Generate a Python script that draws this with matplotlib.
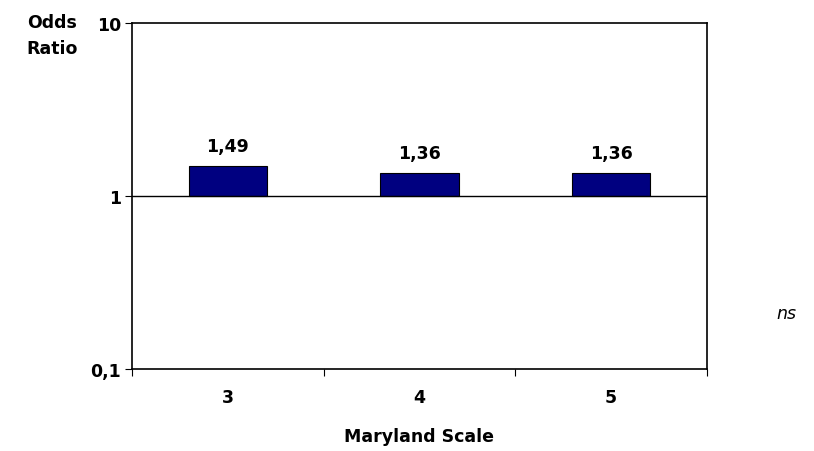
import matplotlib.pyplot as plt
from matplotlib.ticker import FixedLocator, NullLocator

# Odds ratios by Maryland Scale score
categories = ['3', '4', '5']
odds_ratios = [1.49, 1.36, 1.36]
value_labels = ['1,49', '1,36', '1,36']
ytick_values = [0.1, 1, 10]
ytick_labels = ['0,1', '1', '10']

plt.rcParams['font.family'] = 'DejaVu Sans'
plt.rcParams['font.weight'] = 'bold'

fs = 12.5

fig = plt.figure(figsize=(8.14, 4.52), dpi=100)
ax = fig.add_axes([132 / 814, 1 - 370 / 452, 575 / 814, 346 / 452])

x = range(len(categories))
ax.bar(x, [v - 1 for v in odds_ratios], bottom=1, width=0.41,
       color='#000080', edgecolor='black', linewidth=0.8, zorder=3)
for xi, v, lab in zip(x, odds_ratios, value_labels):
    ax.annotate(lab, (xi, v), xytext=(0, 8), textcoords='offset points',
                ha='center', va='bottom', fontsize=fs, fontweight='bold')

ax.axhline(1, color='black', linewidth=1, zorder=4)

ax.set_yscale('log')
ax.set_ylim(0.1, 10)
ax.set_xlim(-0.5, 2.5)
ax.yaxis.set_major_locator(FixedLocator(ytick_values))
ax.yaxis.set_minor_locator(NullLocator())
ax.set_yticks(ytick_values)
ax.set_yticklabels(ytick_labels)

# category labels sit between the boundary ticks
ax.set_xticks([-0.5, 0.5, 1.5, 2.5])
ax.set_xticklabels([])
ax.set_xticks(list(x), minor=True)
ax.set_xticklabels(categories, minor=True)
ax.tick_params(axis='x', which='minor', length=0, pad=14, labelsize=fs)
ax.tick_params(axis='x', which='major', length=5, direction='out')
ax.tick_params(axis='y', which='major', length=5, direction='out', labelsize=fs, pad=3)

for s in ax.spines.values():
    s.set_linewidth(1.2)

ax.set_xlabel('Maryland Scale', fontsize=fs, fontweight='bold', labelpad=15)
fig.text(52 / 814, 1 - 36 / 452, 'Odds\nRatio', ha='center', va='center',
         fontsize=fs, fontweight='bold', linespacing=1.6)
fig.text(786 / 814, 1 - 314 / 452, 'ns', ha='center', va='center',
         fontsize=fs, fontweight='normal', style='italic')

fig.savefig('out.png', dpi=100)
